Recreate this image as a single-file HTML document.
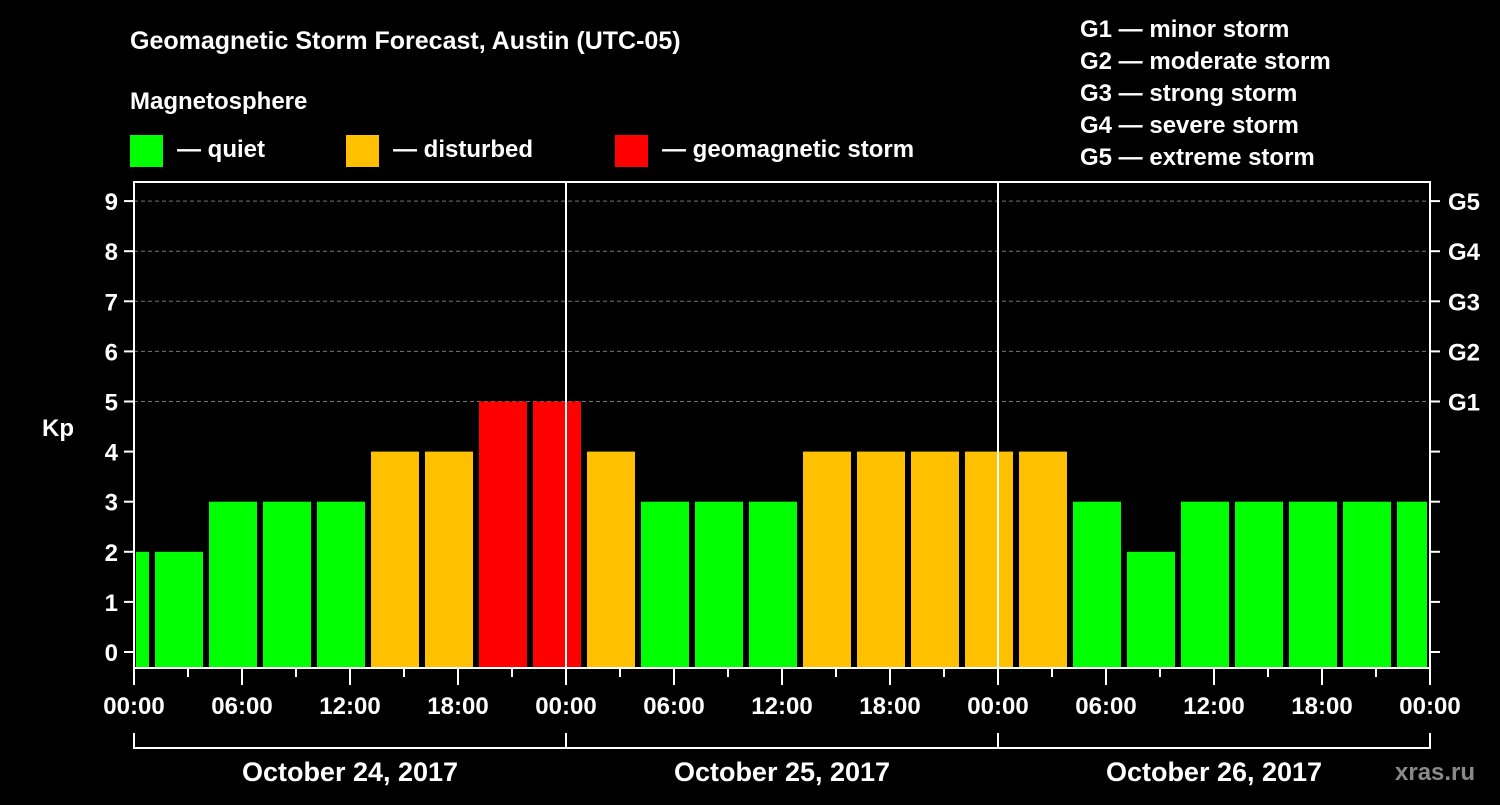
<!DOCTYPE html>
<html><head><meta charset="utf-8"><style>
body{margin:0;background:#000;}
svg text{font-family:"Liberation Sans",sans-serif;font-weight:bold;fill:#fff;}
</style></head><body>
<svg id="c" width="1500" height="800">
<rect width="1500" height="800" fill="#000"/>
<text x="130" y="49" font-size="25">Geomagnetic Storm Forecast, Austin (UTC-05)</text>
<text x="130" y="109" font-size="24">Magnetosphere</text>
<g><rect x="130" y="135" width="33" height="32" fill="#00ff00"/><text x="177" y="157" font-size="24">— quiet</text></g>
<g><rect x="346" y="135" width="33" height="32" fill="#ffc000"/><text x="393" y="157" font-size="24">— disturbed</text></g>
<g><rect x="615" y="135" width="33" height="32" fill="#ff0000"/><text x="662" y="157" font-size="24">— geomagnetic storm</text></g>
<g font-size="24">
<text x="1080" y="37">G1 — minor storm</text>
<text x="1080" y="69">G2 — moderate storm</text>
<text x="1080" y="101">G3 — strong storm</text>
<text x="1080" y="133">G4 — severe storm</text>
<text x="1080" y="165">G5 — extreme storm</text>
</g>
<g id="plot"></g>
<text x="1395" y="780" font-size="24" fill="#888" style="fill:#8a8a8a">xras.ru</text>
</svg>
<script>
const slotStarts=[-2,1,4,7,10,13,16,19,22,25,28,31,34,37,40,43,46,49,52,55,58,61,64,67,70];
const kpValues=[2,2,3,3,3,4,4,5,5,4,3,3,3,4,4,4,4,4,3,2,3,3,3,3,3];
const yTicks=[0,1,2,3,4,5,6,7,8,9];
const gLabels=["G1","G2","G3","G4","G5"];
const xTickLabels=["00:00","06:00","12:00","18:00","00:00","06:00","12:00","18:00","00:00","06:00","12:00","18:00","00:00"];
const dayLabels=["October 24, 2017","October 25, 2017","October 26, 2017"];
const L=134,R=1430,T=182,B=668;
const x=h=>L+(R-L)*h/72;
const y=v=>652-v*50.1;
const ns="http://www.w3.org/2000/svg";
const g=document.getElementById('plot');
function mk(tag,a,p){const e=document.createElementNS(ns,tag);for(const k in a)e.setAttribute(k,a[k]);(p||g).appendChild(e);return e;}
// grid
for(let v=5;v<=9;v++){const l=mk('line',{x1:L,x2:R,y1:y(v),y2:y(v),stroke:'#777','stroke-dasharray':'4,3','stroke-width':1});

}
// bars
slotStarts.forEach((s,i)=>{const v=kpValues[i];
const x0=Math.max(x(s)+3,L+2),x1=Math.min(x(s+3)-3,R-3);
const col=v>=5?'#ff0000':v>=4?'#ffc000':'#00ff00';
const r=mk('rect',{x:x0,y:y(v),width:x1-x0,height:B-1-y(v),fill:col});

});
// day lines
[24,48].forEach(h=>{const l=mk('line',{x1:x(h),x2:x(h),y1:T,y2:B,stroke:'#fff','stroke-width':2});

});
// frame
const f=mk('rect',{x:L,y:T,width:R-L,height:B-T,fill:'none',stroke:'#fff','stroke-width':2});


// y ticks
yTicks.forEach(v=>{mk('line',{x1:L-10,x2:L,y1:y(v),y2:y(v),stroke:'#fff','stroke-width':2});
mk('line',{x1:R,x2:R+10,y1:y(v),y2:y(v),stroke:'#fff','stroke-width':2});
const t=mk('text',{x:L-16,y:y(v)+9,'font-size':24,'text-anchor':'end'});t.textContent=v;

});
gLabels.forEach((s,i)=>{const t=mk('text',{x:R+18,y:y(5+i)+9,'font-size':24});t.textContent=s;

});
const kp=mk('text',{x:42,y:436,'font-size':24});kp.textContent='Kp';


// x ticks
for(let h=0;h<=72;h+=3){mk('line',{x1:x(h),x2:x(h),y1:B,y2:B+(h%6===0?17:9),stroke:'#fff','stroke-width':2});}
xTickLabels.forEach((s,i)=>{const t=mk('text',{x:x(i*6),y:714,'font-size':24,'text-anchor':'middle'});t.textContent=s;

});
// bracket
mk('line',{x1:L,x2:R,y1:748,y2:748,stroke:'#fff','stroke-width':2});
[0,24,48,72].forEach(h=>mk('line',{x1:x(h),x2:x(h),y1:733,y2:749,stroke:'#fff','stroke-width':2}));
dayLabels.forEach((s,i)=>{const t=mk('text',{x:x(i*24+12),y:781,'font-size':27,'text-anchor':'middle'});t.textContent=s;

});
</script>
</body></html>
